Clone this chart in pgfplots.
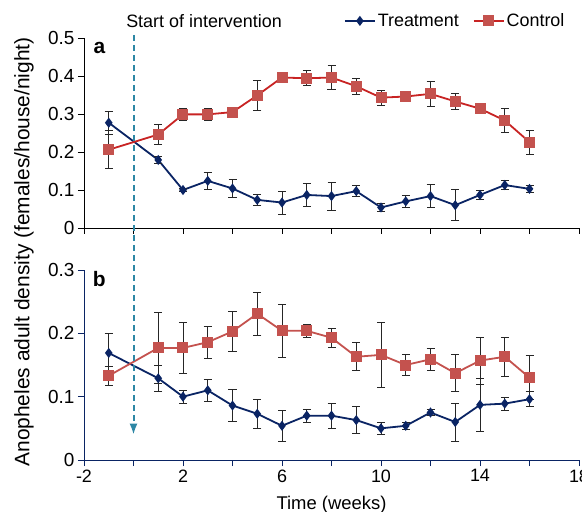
\documentclass[border=0pt]{standalone}
\usepackage{pgfplots}
\pgfplotsset{compat=1.18}
\usepackage{fontspec}
\setmainfont{Liberation Sans}
\usetikzlibrary{arrows.meta}

\definecolor{navy}{RGB}{10,36,100}
\definecolor{ctrlred}{RGB}{200,35,35}
\definecolor{ctrlfill}{RGB}{196,82,78}
\definecolor{dashcol}{RGB}{45,135,165}

\pgfplotsset{
  panel/.style={
    scale only axis, width=495bp, height=190bp,
    xmin=-2, xmax=18, ymin=0,
    axis x line*=bottom, axis y line*=left,
    axis line style={#1, line width=0.9bp},
    xtick={-2,2,...,18}, minor xtick={0,4,...,16},
    tick style={#1, line width=0.9bp},
    major tick length=6bp, minor tick length=6bp,
    tick align=outside,
    ticklabel style={font=\fontsize{18}{21}\selectfont},
    yticklabel style={font=\fontsize{19}{22}\selectfont},
    /pgf/number format/assume math mode=true,
    /pgf/number format/fixed,
    clip=false,
  },
  treat/.style={navy, line width=1.8bp, mark=diamond*, mark size=3.6bp,
    mark options={fill=navy, solid},
    error bars/y dir=both, error bars/y explicit,
    error bars/error bar style={black!85, line width=0.8bp},
    error bars/error mark options={rotate=90, black!85, line width=0.8bp, mark size=4bp}},
  ctrl/.style={#1, line width=1.8bp, mark=square*, mark size=4.6bp,
    mark options={fill=ctrlfill, draw=ctrlfill, solid},
    error bars/y dir=both, error bars/y explicit,
    error bars/error bar style={black!85, line width=0.8bp},
    error bars/error mark options={rotate=90, black!85, line width=0.8bp, mark size=4bp}},
}

\begin{document}
\begin{tikzpicture}
% panel a
\begin{axis}[panel=black, at={(0,232bp)}, anchor=south west,
  ymax=0.5, ytick={0,0.1,...,0.5}, xticklabels={},
  legend columns=2,
  legend style={at={(0.975,1.09)}, anchor=east, draw=none, fill=none,
    font=\fontsize{18}{21}\selectfont, inner sep=0pt,
    /tikz/every even column/.append style={column sep=12bp}},
  legend image code/.code={\draw[mark repeat=2,mark phase=2,#1]
    plot coordinates {(0bp,0bp) (15bp,0bp) (30bp,0bp)};},
]
\addplot[treat] coordinates {
 (-1,0.277) +- (0,0.030)
 (1,0.179) +- (0,0.010)
 (2,0.100) +- (0,0.005)
 (3,0.124) +- (0,0.023)
 (4,0.104) +- (0,0.023)
 (5,0.074) +- (0,0.015)
 (6,0.067) +- (0,0.030)
 (7,0.087) +- (0,0.030)
 (8,0.084) +- (0,0.037)
 (9,0.097) +- (0,0.015)
 (10,0.054) +- (0,0.010)
 (11,0.070) +- (0,0.015)
 (12,0.084) +- (0,0.030)
 (13,0.060) +- (0,0.041)
 (14,0.087) +- (0,0.011)
 (15,0.113) +- (0,0.011)
 (16,0.103) +- (0,0.010)
};
\addplot[ctrl=ctrlred] coordinates {
 (-1,0.206) +- (0,0.050)
 (1,0.246) +- (0,0.027)
 (2,0.299) +- (0,0.017)
 (3,0.299) +- (0,0.016)
 (4,0.305) +- (0,0.004)
 (5,0.349) +- (0,0.039)
 (6,0.396) +- (0,0.004)
 (7,0.394) +- (0,0.020)
 (8,0.396) +- (0,0.031)
 (9,0.373) +- (0,0.021)
 (10,0.343) +- (0,0.020)
 (11,0.346) +- (0,0.004)
 (12,0.353) +- (0,0.033)
 (13,0.333) +- (0,0.020)
 (14,0.314) +- (0,0.011)
 (15,0.283) +- (0,0.032)
 (16,0.226) +- (0,0.032)
};
\legend{Treatment, Control}
\node[font=\fontsize{21}{25}\selectfont\bfseries] at (rel axis cs:0.031,0.95) {a};
\node[font=\fontsize{18}{21}\selectfont] at (axis cs:2.85,0.5) [yshift=17bp] {Start of intervention};
\coordinate (dtop) at (axis cs:0,0.5);
\end{axis}
% panel b
\begin{axis}[panel=navy, at={(0,0)}, anchor=south west,
  ymax=0.3, ytick={0,0.1,...,0.3},
  xlabel={Time (weeks)},
  xlabel style={font=\fontsize{18.5}{21}\selectfont, yshift=-7bp},
]
\addplot[treat] coordinates {
 (-1,0.169) +- (0,0.031)
 (1,0.129) +- (0,0.020)
 (2,0.100) +- (0,0.010)
 (3,0.110) +- (0,0.017)
 (4,0.086) +- (0,0.025)
 (5,0.073) +- (0,0.023)
 (6,0.054) +- (0,0.025)
 (7,0.070) +- (0,0.010)
 (8,0.070) +- (0,0.020)
 (9,0.063) +- (0,0.021)
 (10,0.050) +- (0,0.010)
 (11,0.054) +- (0,0.006)
 (12,0.075) +- (0,0.005)
 (13,0.060) +- (0,0.030)
 (14,0.087) +- (0,0.042)
 (15,0.089) +- (0,0.010)
 (16,0.096) +- (0,0.012)
};
\addplot[ctrl=ctrlfill] coordinates {
 (-1,0.133) +- (0,0.015)
 (1,0.177) +- (0,0.056)
 (2,0.177) +- (0,0.040)
 (3,0.186) +- (0,0.025)
 (4,0.203) +- (0,0.031)
 (5,0.231) +- (0,0.034)
 (6,0.204) +- (0,0.042)
 (7,0.204) +- (0,0.010)
 (8,0.193) +- (0,0.015)
 (9,0.163) +- (0,0.022)
 (10,0.166) +- (0,0.051)
 (11,0.150) +- (0,0.017)
 (12,0.159) +- (0,0.018)
 (13,0.137) +- (0,0.029)
 (14,0.157) +- (0,0.037)
 (15,0.163) +- (0,0.031)
 (16,0.130) +- (0,0.035)
};
\node[font=\fontsize{21}{25}\selectfont\bfseries] at (rel axis cs:0.031,0.953) {b};
\coordinate (dbot) at (axis cs:0,0.040);
\end{axis}
\draw[dashcol, line width=2bp, dash pattern=on 6bp off 4bp,
  -{Latex[length=11bp,width=8bp]}] ([yshift=3bp]dtop) -- (dbot);
\node[rotate=90, font=\fontsize{21}{25}\selectfont] at (-60bp,208bp)
  {Anopheles adult density (females/house/night)};
\pgfresetboundingbox
\path (-84bp,-52bp) rectangle (498bp,460bp);
\end{tikzpicture}
\end{document}
